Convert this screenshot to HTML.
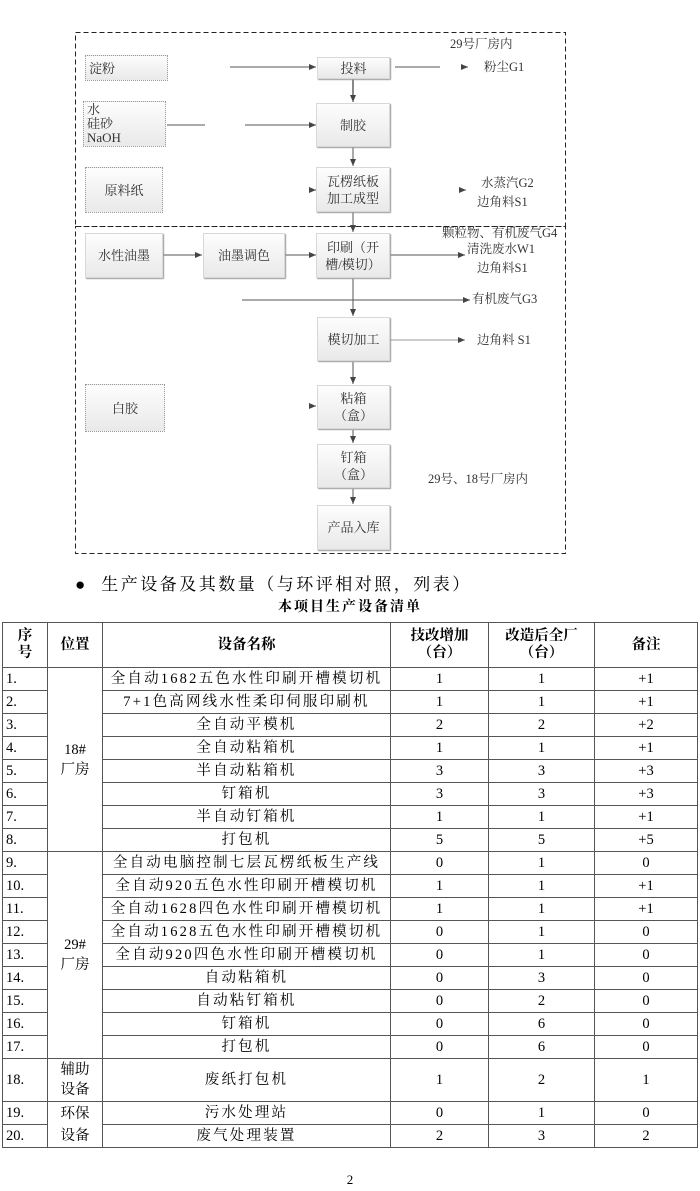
<!DOCTYPE html>
<html><head><meta charset="utf-8">
<style>
*{margin:0;padding:0;box-sizing:border-box}
body{width:700px;height:1191px;background:#fff;position:relative;overflow:hidden;font-family:"Liberation Serif","Noto Serif CJK SC",serif;color:#000}
.a{position:absolute}
.bx{position:absolute;background:linear-gradient(#fdfdfd,#e9e9e9);border:1px solid #d8d8d8;box-shadow:1px 1px 1px #9a9a9a;display:flex;align-items:center;justify-content:center;text-align:center;font-size:13px;line-height:17px;color:#333}
.dot{border:1px dotted #9a9a9a;box-shadow:none}
.lb{position:absolute;font-size:12.5px;color:#333;white-space:nowrap;line-height:15px}
table{position:absolute;left:2px;top:622px;border-collapse:collapse;table-layout:fixed;font-size:14.5px}
td{border:1px solid #555;text-align:center;padding:0;line-height:17px}
td.n{text-align:left;padding-left:3px}
td.nm{letter-spacing:2.2px}
</style></head><body>
<svg class="a" style="left:0;top:0" width="700" height="560">
<defs><marker id="ar" markerWidth="8" markerHeight="8" refX="7" refY="3" orient="auto" markerUnits="userSpaceOnUse"><path d="M0,0 L7,3 L0,6z" fill="#444"/></marker></defs>
<g fill="none" stroke="#222" stroke-width="1" stroke-dasharray="5,3">
<rect x="75.5" y="32.5" width="490" height="194"/>
<rect x="75.5" y="226.5" width="490" height="327"/>
</g>
<g stroke="#555" stroke-width="1" fill="none">
<line x1="230" y1="67" x2="316" y2="67" marker-end="url(#ar)"/>
<line x1="395" y1="67" x2="440" y2="67"/>
<line x1="462" y1="67" x2="468" y2="67" marker-end="url(#ar)"/>
<line x1="353" y1="79" x2="353" y2="102" marker-end="url(#ar)" stroke="#111"/>
<line x1="167" y1="125" x2="205" y2="125"/>
<line x1="245" y1="125" x2="316" y2="125" marker-end="url(#ar)"/>
<line x1="353" y1="147" x2="353" y2="166" marker-end="url(#ar)"/>
<line x1="310" y1="190" x2="316" y2="190" marker-end="url(#ar)"/>
<line x1="460" y1="190" x2="466" y2="190" marker-end="url(#ar)"/>
<line x1="353" y1="212" x2="353" y2="232" marker-end="url(#ar)"/>
<line x1="163" y1="255" x2="202" y2="255" marker-end="url(#ar)"/>
<line x1="285" y1="255" x2="316" y2="255" marker-end="url(#ar)"/>
<line x1="390" y1="255" x2="465" y2="255" marker-end="url(#ar)"/>
<line x1="353" y1="278" x2="353" y2="316" marker-end="url(#ar)"/>
<line x1="242" y1="300" x2="470" y2="300" marker-end="url(#ar)"/>
<line x1="390" y1="340" x2="465" y2="340" marker-end="url(#ar)" stroke="#999"/>
<line x1="353" y1="362" x2="353" y2="384" marker-end="url(#ar)"/>
<line x1="310" y1="406" x2="316" y2="406" marker-end="url(#ar)"/>
<line x1="353" y1="430" x2="353" y2="443" marker-end="url(#ar)"/>
<line x1="353" y1="489" x2="353" y2="504" marker-end="url(#ar)"/>
</g>
</svg>
<div class="bx dot" style="left:85px;top:55px;width:83px;height:26px;justify-content:flex-start;padding-left:3px">淀粉</div>
<div class="bx dot" style="left:83px;top:101px;width:83px;height:46px;justify-content:flex-start;text-align:left;padding-left:3px;line-height:14px">水<br>硅砂<br>NaOH</div>
<div class="bx dot" style="left:85px;top:167px;width:78px;height:46px">原料纸</div>
<div class="bx" style="left:317px;top:57px;width:73px;height:22px">投料</div>
<div class="bx" style="left:316px;top:103px;width:74px;height:44px">制胶</div>
<div class="bx" style="left:316px;top:167px;width:74px;height:45px">瓦楞纸板<br>加工成型</div>
<div class="bx" style="left:85px;top:233px;width:78px;height:45px">水性油墨</div>
<div class="bx" style="left:203px;top:233px;width:82px;height:45px">油墨调色</div>
<div class="bx" style="left:316px;top:233px;width:74px;height:45px">印刷（开<br>槽/模切）</div>
<div class="bx" style="left:317px;top:317px;width:73px;height:44px">模切加工</div>
<div class="bx dot" style="left:85px;top:384px;width:80px;height:48px">白胶</div>
<div class="bx" style="left:317px;top:385px;width:73px;height:44px">粘箱<br>（盒）</div>
<div class="bx" style="left:317px;top:444px;width:73px;height:44px">钉箱<br>（盒）</div>
<div class="bx" style="left:317px;top:505px;width:73px;height:45px">产品入库</div>
<div class="lb" style="left:450px;top:37px">29号厂房内</div>
<div class="lb" style="left:484px;top:60px">粉尘G1</div>
<div class="lb" style="left:481px;top:176px">水蒸汽G2</div>
<div class="lb" style="left:477px;top:195px">边角料S1</div>
<div class="lb" style="left:442px;top:226px">颗粒物、有机废气G4</div>
<div class="lb" style="left:467px;top:242px">清洗废水W1</div>
<div class="lb" style="left:477px;top:261px">边角料S1</div>
<div class="lb" style="left:472px;top:292px">有机废气G3</div>
<div class="lb" style="left:477px;top:333px">边角料 S1</div>
<div class="lb" style="left:428px;top:472px">29号、18号厂房内</div>

<div class="a" style="left:75px;top:570px;font-size:17px;letter-spacing:2.5px;white-space:nowrap">●&nbsp; 生产设备及其数量（与环评相对照，列表）</div>
<div class="a" style="left:0;width:700px;top:596px;text-align:center;font-size:14px;font-weight:bold;letter-spacing:2px">本项目生产设备清单</div>

<table>
<colgroup><col style="width:45px"><col style="width:55px"><col style="width:288px"><col style="width:98px"><col style="width:106px"><col style="width:103px"></colgroup>
<tr style="height:45px;font-weight:bold"><td>序<br>号</td><td>位置</td><td>设备名称</td><td>技改增加<br>（台）</td><td>改造后全厂<br>（台）</td><td>备注</td></tr>
<tr style="height:23px"><td class="n">1.</td><td rowspan="8" style="line-height:20px">18#<br>厂房</td><td class="nm">全自动1682五色水性印刷开槽模切机</td><td>1</td><td>1</td><td>+1</td></tr>
<tr style="height:23px"><td class="n">2.</td><td class="nm">7+1色高网线水性柔印伺服印刷机</td><td>1</td><td>1</td><td>+1</td></tr>
<tr style="height:23px"><td class="n">3.</td><td class="nm">全自动平模机</td><td>2</td><td>2</td><td>+2</td></tr>
<tr style="height:23px"><td class="n">4.</td><td class="nm">全自动粘箱机</td><td>1</td><td>1</td><td>+1</td></tr>
<tr style="height:23px"><td class="n">5.</td><td class="nm">半自动粘箱机</td><td>3</td><td>3</td><td>+3</td></tr>
<tr style="height:23px"><td class="n">6.</td><td class="nm">钉箱机</td><td>3</td><td>3</td><td>+3</td></tr>
<tr style="height:23px"><td class="n">7.</td><td class="nm">半自动钉箱机</td><td>1</td><td>1</td><td>+1</td></tr>
<tr style="height:23px"><td class="n">8.</td><td class="nm">打包机</td><td>5</td><td>5</td><td>+5</td></tr>
<tr style="height:23px"><td class="n">9.</td><td rowspan="9" style="line-height:20px">29#<br>厂房</td><td class="nm">全自动电脑控制七层瓦楞纸板生产线</td><td>0</td><td>1</td><td>0</td></tr>
<tr style="height:23px"><td class="n">10.</td><td class="nm">全自动920五色水性印刷开槽模切机</td><td>1</td><td>1</td><td>+1</td></tr>
<tr style="height:23px"><td class="n">11.</td><td class="nm">全自动1628四色水性印刷开槽模切机</td><td>1</td><td>1</td><td>+1</td></tr>
<tr style="height:23px"><td class="n">12.</td><td class="nm">全自动1628五色水性印刷开槽模切机</td><td>0</td><td>1</td><td>0</td></tr>
<tr style="height:23px"><td class="n">13.</td><td class="nm">全自动920四色水性印刷开槽模切机</td><td>0</td><td>1</td><td>0</td></tr>
<tr style="height:23px"><td class="n">14.</td><td class="nm">自动粘箱机</td><td>0</td><td>3</td><td>0</td></tr>
<tr style="height:23px"><td class="n">15.</td><td class="nm">自动粘钉箱机</td><td>0</td><td>2</td><td>0</td></tr>
<tr style="height:23px"><td class="n">16.</td><td class="nm">钉箱机</td><td>0</td><td>6</td><td>0</td></tr>
<tr style="height:23px"><td class="n">17.</td><td class="nm">打包机</td><td>0</td><td>6</td><td>0</td></tr>
<tr style="height:43px"><td class="n">18.</td><td style="line-height:20px">辅助<br>设备</td><td class="nm">废纸打包机</td><td>1</td><td>2</td><td>1</td></tr>
<tr style="height:23px"><td class="n">19.</td><td rowspan="2" style="line-height:22px">环保<br>设备</td><td class="nm">污水处理站</td><td>0</td><td>1</td><td>0</td></tr>
<tr style="height:23px"><td class="n">20.</td><td class="nm">废气处理装置</td><td>2</td><td>3</td><td>2</td></tr>
</table>
<div class="a" style="left:0;width:700px;top:1172px;text-align:center;font-size:13px">2</div>
</body></html>
